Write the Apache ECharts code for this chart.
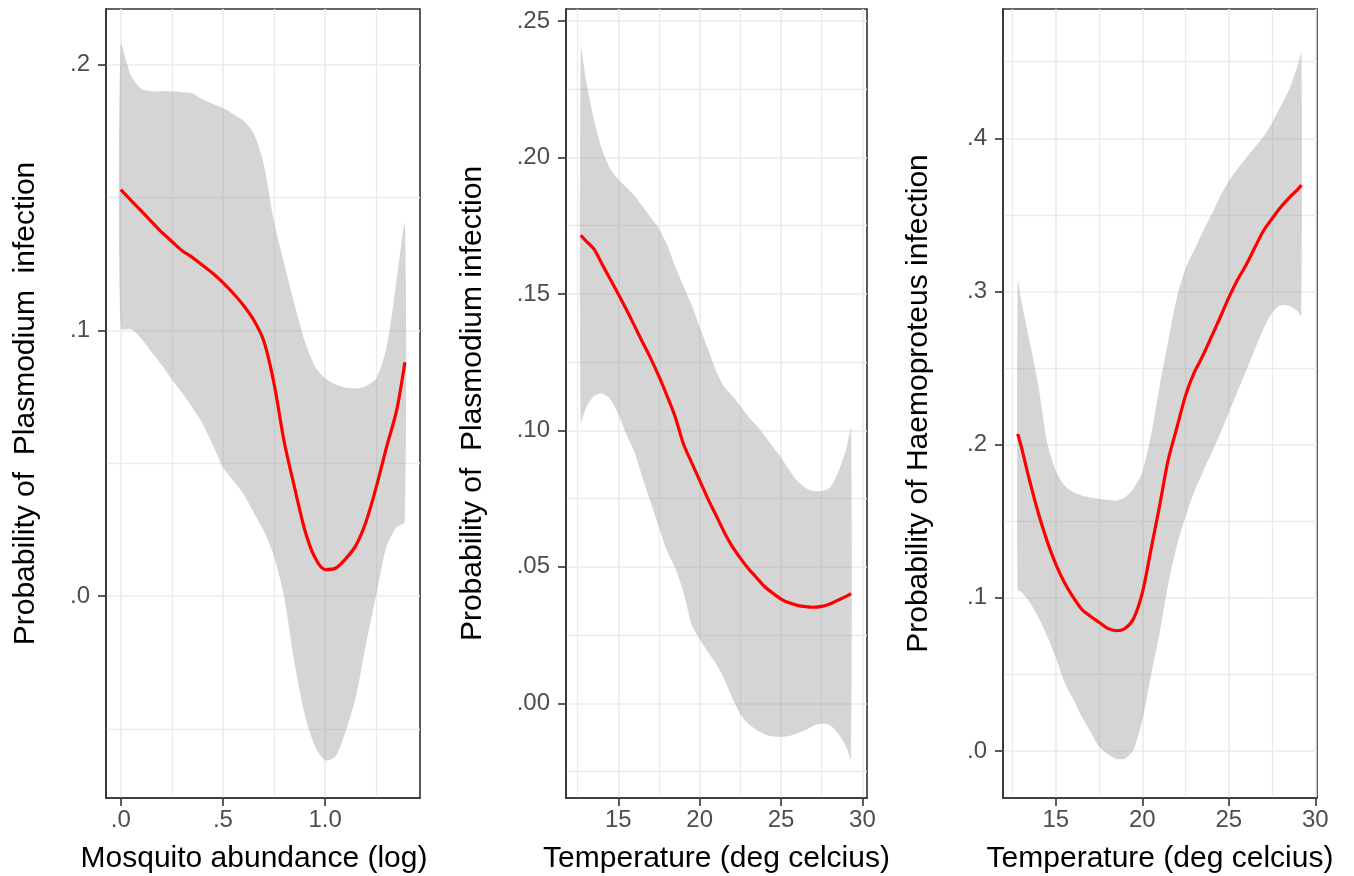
<!DOCTYPE html>
<html>
<head>
<meta charset="utf-8">
<script src="https://cdn.jsdelivr.net/npm/echarts@6.0.0/dist/echarts.min.js"></script>
<style>
  html, body { margin: 0; padding: 0; background: #fff; }
  #chart { width: 1354px; height: 876px; }
</style>
</head>
<body>
<div id="chart"></div>
<script>
// panel 1: plasmodium vs mosquito abundance (log)
const mosqX = [0, 0.05, 0.1, 0.15, 0.2, 0.25, 0.3, 0.35, 0.4, 0.45, 0.5, 0.55, 0.6, 0.65, 0.7,
  0.75, 0.8, 0.85, 0.9, 0.95, 1.0, 1.05, 1.1, 1.15, 1.2, 1.25, 1.3, 1.35, 1.39];
const mosqFit = [0.153, 0.149, 0.145, 0.141, 0.137, 0.1335, 0.130, 0.1275, 0.1245, 0.1215, 0.118,
  0.114, 0.1095, 0.104, 0.096, 0.080, 0.058, 0.041, 0.025, 0.0145, 0.010, 0.0105, 0.014, 0.019,
  0.028, 0.041, 0.056, 0.070, 0.088];
const mosqUpper = [0.2075, 0.196, 0.191, 0.190, 0.190, 0.190, 0.1897, 0.1893, 0.187, 0.1853, 0.1837,
  0.1815, 0.179, 0.1743, 0.1625, 0.141, 0.125, 0.110, 0.096, 0.0865, 0.082, 0.0797, 0.0785, 0.0782,
  0.079, 0.082, 0.0935, 0.119, 0.140];
const mosqLower = [0.1008, 0.1005, 0.097, 0.092, 0.087, 0.0815, 0.0765, 0.071, 0.065, 0.057, 0.0485,
  0.0435, 0.0385, 0.0315, 0.0245, 0.015, -0.0005, -0.025, -0.0445, -0.0565, -0.0618, -0.0605, -0.051,
  -0.038, -0.018, 0.0005, 0.0186, 0.026, 0.028];

// panel 2: plasmodium vs temperature
const tempX2 = [12.7, 13, 13.5, 14, 14.5, 15, 15.5, 16, 16.5, 17, 17.5, 18, 18.5, 19, 19.5, 20, 20.5,
  21, 21.5, 22, 22.5, 23, 23.5, 24, 24.5, 25, 25.5, 26, 26.5, 27, 27.5, 28, 28.5, 29, 29.3];
const plasFit = [0.1715, 0.1695, 0.1665, 0.161, 0.1555, 0.150, 0.1443, 0.1383, 0.1322, 0.1263, 0.1198,
  0.1126, 0.1049, 0.0951, 0.0883, 0.0817, 0.0750, 0.0690, 0.0628, 0.0575, 0.0532, 0.0493, 0.0460,
  0.0427, 0.0403, 0.0382, 0.0368, 0.0359, 0.0354, 0.0352, 0.0355, 0.0364, 0.0378, 0.0392, 0.0402];
const plasUpper = [0.240, 0.229, 0.214, 0.203, 0.196, 0.192, 0.189, 0.186, 0.182, 0.178, 0.174, 0.168,
  0.160, 0.153, 0.146, 0.138, 0.130, 0.122, 0.116, 0.1127, 0.109, 0.105, 0.1018, 0.098, 0.094, 0.090,
  0.0855, 0.0815, 0.079, 0.0778, 0.0778, 0.079, 0.0845, 0.093, 0.1005];
const plasLower = [0.103, 0.108, 0.1125, 0.1135, 0.1115, 0.106, 0.0985, 0.092, 0.0825, 0.0735, 0.0645,
  0.0558, 0.0495, 0.041, 0.029, 0.0235, 0.019, 0.0145, 0.009, 0.002, -0.004, -0.0075, -0.0098, -0.0113,
  -0.0122, -0.0123, -0.012, -0.011, -0.0098, -0.0082, -0.0074, -0.008, -0.011, -0.0159, -0.0205];

// panel 3: haemoproteus vs temperature
const tempX3 = [12.8, 13, 13.5, 14, 14.5, 15, 15.5, 16, 16.5, 17, 17.5, 18, 18.5, 19, 19.5, 20, 20.5,
  21, 21.5, 22, 22.5, 23, 23.5, 24, 24.5, 25, 25.5, 26, 26.5, 27, 27.5, 28, 28.5, 29, 29.2];
const haemFit = [0.207, 0.199, 0.176, 0.155, 0.137, 0.122, 0.110, 0.1005, 0.0925, 0.088, 0.084, 0.080,
  0.0785, 0.080, 0.0865, 0.103, 0.1313, 0.160, 0.190, 0.211, 0.232, 0.247, 0.258, 0.2705, 0.283, 0.296,
  0.3075, 0.3173, 0.3285, 0.3395, 0.3475, 0.355, 0.3613, 0.3668, 0.3695];
const haemUpper = [0.307, 0.294, 0.267, 0.238, 0.2015, 0.183, 0.1735, 0.169, 0.1668, 0.1655, 0.1646,
  0.164, 0.1634, 0.1655, 0.1715, 0.182, 0.206, 0.238, 0.268, 0.296, 0.315, 0.327, 0.339, 0.350, 0.362,
  0.372, 0.380, 0.387, 0.394, 0.401, 0.410, 0.421, 0.432, 0.448, 0.456];
const haemLower = [0.105, 0.104, 0.097, 0.087, 0.075, 0.061, 0.045, 0.034, 0.0225, 0.0125, 0.003, -0.002,
  -0.0052, -0.005, 0.001, 0.02, 0.049, 0.0767, 0.109, 0.134, 0.153, 0.169, 0.182, 0.1945, 0.207, 0.2208,
  0.2345, 0.248, 0.262, 0.2755, 0.286, 0.291, 0.2905, 0.287, 0.2835];

// tick values and labels
const mosqXTicks = [0, 0.5, 1.0];
const mosqXLabels = ['.0', '.5', '1.0'];
const mosqXMinor = [0.25, 0.75, 1.25];
const mosqYTicks = [0, 0.1, 0.2];
const mosqYLabels = ['.0', '.1', '.2'];
const mosqYMinor = [-0.05, 0.05, 0.15];

const tempXTicks = [15, 20, 25, 30];
const tempXLabels = ['15', '20', '25', '30'];
const tempXMinor = [12.5, 17.5, 22.5, 27.5];

const plasYTicks = [0, 0.05, 0.1, 0.15, 0.2, 0.25];
const plasYLabels = ['.00', '.05', '.10', '.15', '.20', '.25'];
const plasYMinor = [-0.025, 0.025, 0.075, 0.125, 0.175, 0.225];

const haemYTicks = [0, 0.1, 0.2, 0.3, 0.4];
const haemYLabels = ['.0', '.1', '.2', '.3', '.4'];
const haemYMinor = [0.05, 0.15, 0.25, 0.35, 0.45];

const FONT = '"Liberation Sans", Arial, sans-serif';
const DARK = '#333333';

// returns [major axis, minor-grid axis]
function makeAxes(gi, isX, min, max, ticks, labels, minor, name, nameGap, namePad) {
  const major = {
    type: 'value', gridIndex: gi, min: min, max: max,
    position: isX ? 'bottom' : 'left',
    name: name, nameLocation: 'middle', nameGap: nameGap, nameMoveOverlap: false,
    nameTextStyle: { color: '#000', fontSize: 30, fontFamily: FONT, padding: namePad || 0 },
    axisLine: { show: true, onZero: false, lineStyle: { color: DARK, width: 1.6 } },
    axisTick: { show: true, length: 8, customValues: ticks, lineStyle: { color: DARK, width: 1.6 } },
    axisLabel: {
      show: true, customValues: ticks, color: '#4d4d4d', fontSize: 24, fontFamily: FONT,
      margin: isX ? 10 : 16,
      formatter: function (v) {
        let best = 0;
        ticks.forEach(function (t, i) { if (Math.abs(t - v) < Math.abs(ticks[best] - v)) best = i; });
        return labels[best];
      }
    },
    splitLine: { show: true, lineStyle: { color: '#ebebeb', width: 1.6 } }
  };
  const minorAxis = {
    type: 'value', gridIndex: gi, min: min, max: max,
    position: isX ? 'top' : 'right',
    axisLine: { show: false },
    axisTick: { show: false, customValues: minor },
    axisLabel: { show: false, customValues: minor },
    splitLine: { show: true, lineStyle: { color: '#ebebeb', width: 1.3 } }
  };
  return [major, minorAxis];
}

// confidence band drawn as one polygon: upper edge forward, lower edge back
function bandItem(params, api) {
  if (params.dataIndexInside !== 0) return null;
  const n = params.dataInsideLength;
  const pts = [];
  for (let i = 0; i < n; i++) pts.push(api.coord([api.value(0, i), api.value(2, i)]));
  for (let i = n - 1; i >= 0; i--) pts.push(api.coord([api.value(0, i), api.value(1, i)]));
  return {
    type: 'polygon',
    shape: { points: pts, smooth: 0.25 },
    style: { fill: 'rgba(150,150,150,0.4)' }
  };
}

function makeSeries(gi, xs, fit, lower, upper) {
  const ax = gi * 2;
  return [
    {
      type: 'custom', xAxisIndex: ax, yAxisIndex: ax, silent: true, z: 2,
      renderItem: bandItem,
      encode: { x: 0, y: [1, 2] },
      data: xs.map(function (x, i) { return [x, lower[i], upper[i]]; })
    },
    {
      type: 'line', xAxisIndex: ax, yAxisIndex: ax, z: 4,
      data: xs.map(function (x, i) { return [x, fit[i]]; }),
      symbol: 'none', smooth: 0.3, silent: true,
      lineStyle: { color: '#ff0000', width: 3.2 }
    }
  ];
}

function grid(left, width) {
  return {
    left: left, top: 9, width: width, height: 789,
    show: true, borderColor: DARK, borderWidth: 1.6, backgroundColor: 'transparent',
    containLabel: false, outerBoundsMode: 'none'
  };
}

const xAxes = [].concat(
  makeAxes(0, true, -0.072, 1.464, mosqXTicks, mosqXLabels, mosqXMinor, 'Mosquito abundance (log)', 46, [0, 18, 0, 0]),
  makeAxes(1, true, 11.79, 30.28, tempXTicks, tempXLabels, tempXMinor, 'Temperature (deg celcius)', 46),
  makeAxes(2, true, 11.95, 30.1, tempXTicks, tempXLabels, tempXMinor, 'Temperature (deg celcius)', 46)
);
const yAxes = [].concat(
  makeAxes(0, false, -0.076, 0.221, mosqYTicks, mosqYLabels, mosqYMinor, 'Probability of  Plasmodium  infection', 65),
  makeAxes(1, false, -0.0347, 0.2544, plasYTicks, plasYLabels, plasYMinor, 'Probability of  Plasmodium infection', 78),
  makeAxes(2, false, -0.0307, 0.4844, haemYTicks, haemYLabels, haemYMinor, 'Probability of Haemoproteus infection', 69)
);

const option = {
  animation: false,
  backgroundColor: '#ffffff',
  textStyle: { fontFamily: FONT },
  grid: [grid(106, 314), grid(566, 301), grid(1003, 314)],
  xAxis: xAxes,
  yAxis: yAxes,
  series: [].concat(
    makeSeries(0, mosqX, mosqFit, mosqLower, mosqUpper),
    makeSeries(1, tempX2, plasFit, plasLower, plasUpper),
    makeSeries(2, tempX3, haemFit, haemLower, haemUpper)
  )
};

const myChart = echarts.init(document.getElementById('chart'));
myChart.setOption(option);
</script>
</body>
</html>
